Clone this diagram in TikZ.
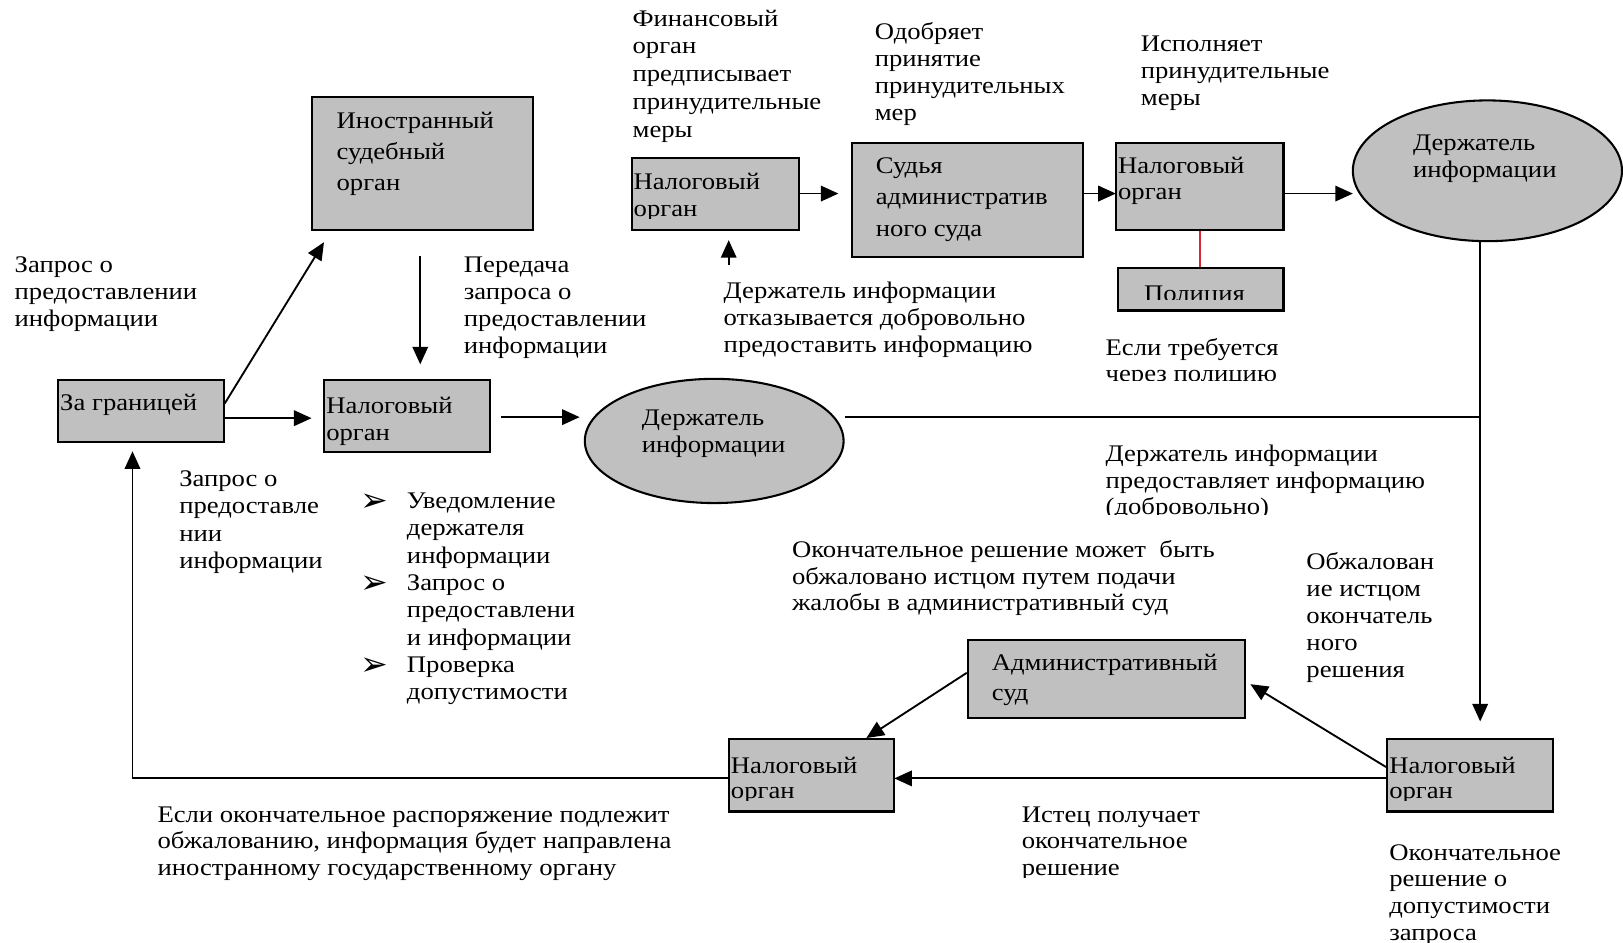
\documentclass[tikz,border=0pt]{standalone}
\usepackage{fontspec}
\setmainfont[FakeStretch=1.12]{Liberation Serif}
\newfontfamily\dejavu{DejaVu Sans}
\usetikzlibrary{arrows.meta,shapes.geometric,calc}
\definecolor{boxgray}{RGB}{192,192,192}
\definecolor{redline}{RGB}{210,40,50}
\newcommand{\tstr}{\rule{0pt}{20pt}}
\begin{document}
\begin{tikzpicture}[x=1pt,y=-1pt,
  font=\fontsize{23}{26}\selectfont,
  box/.style={draw=black, line width=2pt, fill=boxgray, inner sep=0pt, anchor=north west},
  oval/.style={draw=black, line width=2pt, fill=boxgray, ellipse, inner sep=0pt},
  txt/.style={anchor=north west, inner sep=0pt, align=left},
  wide/.style={font=\fontsize{23}{30}\selectfont},
  bul/.style={anchor=base west, inner sep=0pt, font=\dejavu\fontsize{32}{34}\selectfont},
  arr/.style={line width=1.8pt, -{Triangle[length=17pt,width=15pt]}},
  ln/.style={line width=1.8pt}]
\useasboundingbox[fill=white] (0,0) rectangle (1568,911);

% ---------- boxes ----------
\node[box, minimum width=214pt, minimum height=128pt] (ino) at (300,93) {};
\node[box, minimum width=160pt, minimum height=60pt] (zg) at (55,366) {};
\node[box, minimum width=160pt, minimum height=70pt] (nl1) at (312,366) {};
\node[box, minimum width=161pt, minimum height=69pt] (nl2) at (610,152) {};
\node[box, minimum width=223pt, minimum height=110pt] (sud) at (822,137) {};
\node[box, minimum width=162pt, minimum height=84pt] (nl3) at (1077,137) {};
\node[box, minimum width=160pt, minimum height=41pt] (pol) at (1079,258) {};
\node[oval, minimum width=260pt, minimum height=136pt] (eh1) at (1437,165) {};
\node[oval, minimum width=250pt, minimum height=120pt] (eh2) at (690,426) {};
\node[box, minimum width=268pt, minimum height=76pt] (adm) at (934,617) {};
\node[box, minimum width=160pt, minimum height=70pt] (nl4) at (703,713) {};
\node[box, minimum width=160pt, minimum height=70pt] (nl5) at (1339,713) {};

% ---------- box texts ----------
\node[txt, wide] (tino) at (325,104) {\tstr Иностранный\\судебный\\орган};
\node[txt] (tzg) at (58,376) {\tstr За границей};
\begin{scope}
\clip (nl1.west |- 0,368) rectangle (nl1.east |- 0,431);
\node[txt] (tnl1) at (315,379) {\tstr Налоговый\\орган};
\end{scope}
\begin{scope}
\clip (nl2.west |- 0,154) rectangle (nl2.east |- 0,211);
\node[txt] (tnl2) at (612,163) {\tstr Налоговый\\орган};
\end{scope}
\node[txt, font=\fontsize{23}{30.5}\selectfont] (tsud) at (846,147) {\tstr Судья\\административ\\ного суда};
\node[txt] (tnl3) at (1080,147) {\tstr Налоговый\\орган};
\begin{scope}
\clip (pol.west |- 0,260) rectangle (pol.east |- 0,289);
\node[anchor=north, inner sep=0pt] (tpol) at (1154,271) {\tstr Полиция};
\end{scope}
\node[txt] (teh1) at (1365,125) {\tstr Держатель\\информации};
\node[txt] (teh2) at (620,391) {\tstr Держатель\\информации};
\node[txt, font=\fontsize{23}{29}\selectfont] (tadm) at (958,628) {\tstr Административный\\суд};
\begin{scope}
\clip (nl4.west |- 0,715) rectangle (nl4.east |- 0,773);
\node[txt, font=\fontsize{23}{24.5}\selectfont] (tnl4) at (706,727) {\tstr Налоговый\\орган};
\end{scope}
\begin{scope}
\clip (nl5.west |- 0,715) rectangle (nl5.east |- 0,773);
\node[txt, font=\fontsize{23}{24.5}\selectfont] (tnl5) at (1342,727) {\tstr Налоговый\\орган};
\end{scope}

% ---------- free texts ----------
\node[txt] (l1) at (14,243) {\tstr Запрос о\\предоставлении\\информации};
\node[txt] (l2) at (448,243) {\tstr Передача\\запроса о\\предоставлении\\информации};
\node[txt, font=\fontsize{23}{26.8}\selectfont] (l3) at (611,5) {\tstr Финансовый\\орган\\предписывает\\принудительные\\меры};
\node[txt] (l4) at (845,18) {\tstr Одобряет\\принятие\\принудительных\\мер};
\node[txt] (l5) at (1102,30) {\tstr Исполняет\\принудительные\\меры};
\node[txt] (l6) at (699,268) {\tstr Держатель информации\\отказывается добровольно\\предоставить информацию};
\begin{scope}
\clip (1060,315) rectangle (1300,368);
\node[txt, font=\fontsize{23}{25}\selectfont] (l7) at (1068,323) {\tstr Если требуется\\через полицию};
\end{scope}
\begin{scope}
\clip (1060,420) rectangle (1420,497);
\node[txt, font=\fontsize{23}{25.5}\selectfont] (l8) at (1068,426) {\tstr Держатель информации\\предоставляет информацию\\(добровольно)};
\end{scope}
\node[txt, font=\fontsize{23}{26.3}\selectfont] (l9) at (173,450) {\tstr Запрос о\\предоставле\\нии\\информации};
\node[txt, font=\fontsize{23}{26.4}\selectfont] (l10) at (393,471) {\tstr Уведомление\\держателя\\информации\\Запрос о\\предоставлени\\и информации\\Проверка\\допустимости};
\node[bul] (b1) at (348,494) {➢};
\node[bul] (b2) at (348,573) {➢};
\node[bul] (b3) at (348,653) {➢};
\node[txt] (l11) at (765,518) {\tstr Окончательное решение может\ \ быть\\обжаловано истцом путем подачи\\жалобы в административный суд};
\node[txt] (l12) at (1262,530) {\tstr Обжалован\\ие истцом\\окончатель\\ного\\решения};
\node[txt] (l13) at (152,774) {\tstr Если окончательное распоряжение подлежит\\обжалованию, информация будет направлена\\иностранному государственному органу};
\begin{scope}
\clip (980,765) rectangle (1250,848);
\node[txt] (l14) at (987,774) {\tstr Истец получает\\окончательное\\решение};
\end{scope}
\node[txt, font=\fontsize{23}{25.7}\selectfont] (l15) at (1342,811) {\tstr Окончательное\\решение о\\допустимости\\запроса};

% ---------- connectors ----------
\coordinate (c1) at (313,234);
\draw[arr] (zg.east |- 0,390) -- (c1);
\coordinate (c2) at (301,404);
\draw[arr] (zg.east |- 0,404) -- (c2);
\coordinate (c3a) at (406,247);
\coordinate (c3b) at (406,352);
\draw[arr] (c3a) -- (c3b);
\coordinate (c4a) at (484,403);
\coordinate (c4b) at (560,403);
\draw[arr] (c4a) -- (c4b);
\coordinate (j1) at (1430,403);
\draw[ln] (eh2.east |- j1) -- (j1);
\coordinate (c6) at (1430,697);
\draw[arr] (eh1.south -| j1) -- (c6);
\coordinate (c7) at (810,187);
\draw[arr] (nl2.east |- c7) -- (c7);
\coordinate (c8) at (1078,187);
\draw[arr] (sud.east |- c8) -- (c8);
\coordinate (c9) at (1307,187);
\draw[arr] (nl3.east |- c9) -- (c9);
\coordinate (c10a) at (704,256);
\coordinate (c10b) at (704,232);
\draw[arr] (c10a) -- (c10b);
\draw[redline, line width=2pt] (nl3.south -| 1159,0) -- (pol.north -| 1159,0);
\coordinate (c11) at (1208,661);
\draw[arr] (nl5.west |- 0,741) -- (c11);
\coordinate (c12) at (864,752);
\draw[arr] (nl5.west |- c12) -- (c12);
\coordinate (c13) at (837,713);
\draw[arr] (adm.west |- 0,650) -- (c13);
\coordinate (c14) at (128,752);
\coordinate (c14b) at (128,436);
\draw[arr] (nl4.west |- c14) -- (c14) -- (c14b);
\end{tikzpicture}
\end{document}
